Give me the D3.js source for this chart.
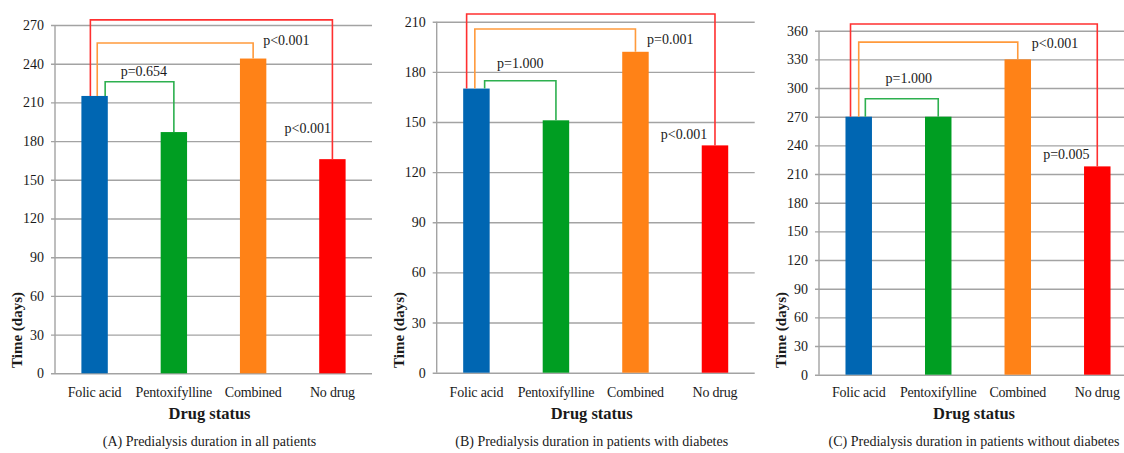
<!DOCTYPE html>
<html lang="en">
<head>
<meta charset="UTF-8">
<title>Predialysis duration</title>
<script src="https://d3js.org/d3.v7.min.js"></script>
<style>
  html, body { margin: 0; padding: 0; background: #fff; }
  svg { display: block; }
  text { font-family: "Liberation Serif", "Times New Roman", serif; fill: #1a1a1a; }
</style>
</head>
<body>
<div id="chart"></div>
<script>
  // ---- data ----
  const categories = ["Folic acid", "Pentoxifylline", "Combined", "No drug"];
  const barColors = ["#0066b2", "#009e22", "#ff8217", "#ff0000"];

  const valuesA = [215, 187, 244, 166];
  const valuesB = [170, 151, 192, 136];
  const valuesC = [270, 270, 330, 218];

  const yMaxA = 270, yMaxB = 210, yMaxC = 360;
  const tickStep = 30;

  // comparisons: folic acid vs pentoxifylline, combined, no drug
  const compareTargets = [1, 2, 3];
  const bracketColors = ["#2db04f", "#ff9a3c", "#ff3030"];
  const pLabelsA = ["p=0.654", "p<0.001", "p<0.001"];
  const pLabelsB = ["p=1.000", "p=0.001", "p<0.001"];
  const pLabelsC = ["p=1.000", "p<0.001", "p=0.005"];

  // bracket top levels (days)
  const bracketTopsA = [226, 256, 274];
  const bracketTopsB = [174.7, 205.6, 214.6];
  const bracketTopsC = [288.8, 348, 367];

  const captions = [
    "(A) Predialysis duration in all patients",
    "(B) Predialysis duration in patients with diabetes",
    "(C) Predialysis duration in patients without diabetes"
  ];

  const W = 1124, H = 453;
  const svg = d3.select("#chart").append("svg")
    .attr("width", W).attr("height", H);

  // panel layout
  const panels = [
    { values: valuesA, yMax: yMaxA, pLabels: pLabelsA, tops: bracketTopsA, caption: captions[0],
      left: 55, top: 25, bottom: 373.3, width: 317,
      leftFrac: [0.9, 0.6, 0.34],
      labelPos: [{ dx: 4.4, v: 230.5 }, { dx: 10, v: 254.5 }, { dx: -1.5, v: 186.3 }] },
    { values: valuesB, yMax: yMaxB, pLabels: pLabelsB, tops: bracketTopsB, caption: captions[1],
      left: 436.7, top: 21.7, bottom: 372.7, width: 318,
      leftFrac: [0.81, 0.44, 0.13],
      labelPos: [{ dx: 0, v: 182.3 }, { dx: 11.6, v: 196.6 }, { dx: -7.7, v: 139.8 }] },
    { values: valuesC, yMax: yMaxC, pLabels: pLabelsC, tops: bracketTopsC, caption: captions[2],
      left: 819, top: 30.7, bottom: 374.7, width: 318,
      leftFrac: [0.75, 0.5, 0.19],
      labelPos: [{ dx: 7, v: 305.3 }, { dx: 14, v: 341.9 }, { dx: -7.7, v: 225.7 }] }
  ];

  panels.forEach(drawPanel);

  function drawPanel(p) {
    const g = svg.append("g");

    const y = d3.scaleLinear().domain([0, p.yMax]).range([p.bottom, p.top]);
    const x = d3.scaleBand().domain(categories)
      .range([p.left, p.left + p.width])
      .paddingInner(0.667).paddingOuter(0.333);

    // grid + y axis
    const yAxis = d3.axisLeft(y)
      .tickValues(d3.range(0, p.yMax + 1, tickStep))
      .tickSize(-p.width).tickPadding(11);
    const ax = g.append("g").attr("transform", `translate(${p.left},0)`).call(yAxis);
    ax.select(".domain").remove();
    ax.selectAll(".tick line")
      .attr("x1", -4)
      .attr("stroke", "#a3a3a3").attr("stroke-width", 1.4);
    ax.selectAll(".tick text")
      .style("font-family", "Liberation Serif, serif")
      .style("font-size", "14px").attr("fill", "#1a1a1a");
    g.append("line")
      .attr("x1", p.left).attr("x2", p.left)
      .attr("y1", y(p.yMax)).attr("y2", y(0))
      .attr("stroke", "#a3a3a3").attr("stroke-width", 1.4);

    // bars
    g.selectAll("rect.bar").data(p.values).join("rect")
      .attr("class", "bar")
      .attr("x", (d, i) => x(categories[i]))
      .attr("width", x.bandwidth())
      .attr("y", d => y(d))
      .attr("height", d => y(0) - y(d))
      .attr("fill", (d, i) => barColors[i]);

    // category labels
    g.selectAll("text.cat").data(categories).join("text")
      .attr("class", "cat")
      .attr("x", d => x(d) + x.bandwidth() / 2)
      .attr("y", 397)
      .attr("text-anchor", "middle")
      .style("font-size", "14px")
      .style("letter-spacing", "-0.2px")
      .text(d => d);

    // brackets
    const x0 = x(categories[0]);
    const bw = x.bandwidth();
    compareTargets.forEach((t, k) => {
      const lx = x0 + bw * p.leftFrac[k];
      const rx = x(categories[t]) + bw / 2;
      const ty = y(p.tops[k]);
      g.append("path")
        .attr("d", `M${lx},${y(p.values[0])} V${ty} H${rx} V${y(p.values[t])}`)
        .attr("fill", "none")
        .attr("stroke", bracketColors[k])
        .attr("stroke-width", 1.6);

      const lp = p.labelPos[k];
      let tx, anchor;
      if (k === 0) { tx = (lx + rx) / 2 + lp.dx; anchor = "middle"; }
      else if (k === 1) { tx = rx + lp.dx; anchor = "start"; }
      else { tx = rx + lp.dx; anchor = "end"; }
      g.append("text")
        .attr("x", tx).attr("y", y(lp.v))
        .attr("text-anchor", anchor)
        .style("font-size", "14px")
        .text(p.pLabels[k]);
    });

    const cx = p.left + p.width / 2 - 4;

    g.append("text")
      .attr("x", cx).attr("y", 419)
      .attr("text-anchor", "middle")
      .style("font-size", "16.5px").style("font-weight", "bold")
      .text("Drug status");

    g.append("text")
      .attr("transform", `translate(${p.left - 33},330) rotate(-90)`)
      .attr("text-anchor", "middle")
      .style("font-size", "15px").style("font-weight", "bold")
      .text("Time (days)");

    g.append("text")
      .attr("x", cx).attr("y", 446)
      .attr("text-anchor", "middle")
      .style("font-size", "14px")
      .text(p.caption);
  }
</script>
</body>
</html>
